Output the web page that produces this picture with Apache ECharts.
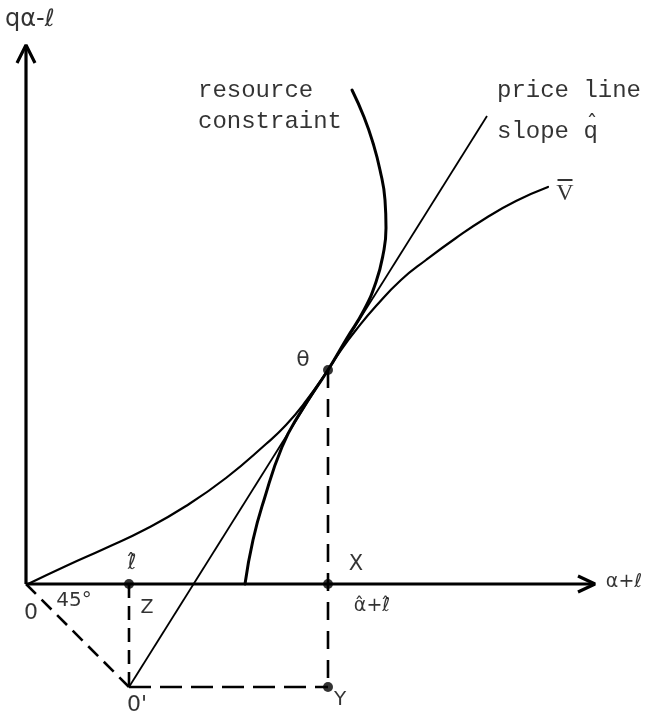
<!DOCTYPE html>
<html>
<head>
<meta charset="utf-8">
<script src="https://cdn.jsdelivr.net/npm/echarts@6/dist/echarts.min.js"></script>
<style>
  html, body { margin: 0; padding: 0; background: #fff; }
  #chart { width: 649px; height: 716px; }
</style>
</head>
<body>
<div id="chart"></div>
<script>
// Diagram units: origin 0 at the corner of the axes, one unit = ten pixels.
const lHat = 10.3;          // position of l-hat on the horizontal axis
const aPlusL = 30.2;        // position of alpha-hat + l-hat
const eHeight = 21.4;       // height of the tangency point e
const xAxisEnd = 56.9;
const yAxisEnd = 53.9;

// Indifference curve V-bar
const vBar = [
  [0.2, 0.0], [4, 1.8], [8, 3.6], [12, 5.5], [16, 7.8], [20, 10.6], [24, 14.0],
  [26, 15.9], [28, 18.3], [30.2, 21.4], [31.5, 23.4], [33, 25.4], [35, 27.8],
  [37.5, 30.4], [40, 32.4], [43, 34.6], [46, 36.6], [49, 38.3], [52.2, 39.7]
];

// Resource constraint, from the horizontal axis upward
const resource = [
  [21.9, 0.0], [22.7, 4.4], [23.8, 8.4], [25.6, 13.7], [27.4, 17.1], [30.2, 21.4],
  [32.1, 24.6], [33.8, 27.4], [35.0, 30.2], [35.7, 32.9], [36.0, 35.6],
  [35.9, 38.4], [35.4, 41.4], [34.7, 44.1], [33.8, 46.7], [32.6, 49.4]
];

// Price line through 0' and e, ending at its upper tip
const priceLineEnd = [46.1, 46.8];

const O = [0, 0];
const Oprime = [lHat, -lHat];
const Zpt = [lHat, 0];
const Xpt = [aPlusL, 0];
const Ypt = [aPlusL, -lHat];
const ePt = [aPlusL, eHeight];

// Text labels: [x, y, text, font, size, align]
const mono = 'Liberation Mono';
const sans = 'DejaVu Sans';
const labels = [
  [-2.1, 56.4, 'qα-ℓ', sans, 24, 'left'],
  [17.2, 49.3, 'resource', mono, 24, 'left'],
  [17.2, 46.2, 'constraint', mono, 24, 'left'],
  [47.1, 49.3, 'price line', mono, 24, 'left'],
  [47.1, 45.2, 'slope q', mono, 24, 'left'],
  [56.6, 46.0, 'ˆ', sans, 22, 'center'],
  [27.7, 22.4, 'θ', sans, 22, 'center'],
  [33.0, 1.9, 'X', sans, 21, 'center'],
  [34.6, -2.2, 'α\u0302+ℓ\u0302', sans, 19, 'center'],
  [10.6, 2.0, 'ℓ\u0302', sans, 21, 'center'],
  [12.1, -2.4, 'Z', sans, 19, 'center'],
  [0.5, -2.9, '0', sans, 22, 'center'],
  [4.8, -1.7, '45°', sans, 20, 'center'],
  [11.1, -12.1, "0'", sans, 22, 'center'],
  [31.4, -11.6, 'Y', sans, 20, 'center'],
  [59.8, 0.2, 'α+ℓ', sans, 19, 'center']
];
// V-bar label: an overbar drawn above the letter
const vBarLabel = [53.9, 39.3, 'V'];

const black = '#000';
function seg(points, width, dash) {
  return {
    type: 'line', data: points, symbol: 'none', silent: true,
    lineStyle: { color: black, width: width, type: dash || 'solid', cap: 'butt' },
    z: 3
  };
}
function curve(points, width) {
  return {
    type: 'line', data: points, symbol: 'none', smooth: 0.5,
    silent: true, lineStyle: { color: black, width: width, cap: 'round' }, z: 4
  };
}

const chart = echarts.init(document.getElementById('chart'));
chart.setOption({
  animation: false,
  backgroundColor: '#fff',
  grid: { left: 0, right: 0, top: 0, bottom: 0 },
  xAxis: { type: 'value', min: -2.6, max: 62.3, show: false },
  yAxis: { type: 'value', min: -13.2, max: 58.4, show: false },
  series: [
    // axes with open arrowheads
    seg([O, [0, yAxisEnd]], 3.2),
    seg([[-0.9, yAxisEnd - 1.8], [0, yAxisEnd], [0.9, yAxisEnd - 1.8]], 3.2),
    seg([O, [xAxisEnd, 0]], 3.2),
    seg([[xAxisEnd - 1.7, 0.8], [xAxisEnd, 0], [xAxisEnd - 1.7, -0.8]], 3.2),
    // dashed construction lines
    seg([O, Oprime], 2.6, [14, 8]),
    seg([Zpt, Oprime], 2.6, [14, 8]),
    seg([Oprime, Ypt], 2.6, [22, 9]),
    seg([ePt, Ypt], 2.6, [18, 11]),
    // price line
    seg([Oprime, priceLineEnd], 1.8),
    // curves
    curve(vBar, 2.2),
    curve(resource, 3),
    // marked points
    {
      type: 'scatter', data: [ePt, Xpt, Zpt, Ypt], symbol: 'circle', symbolSize: 10,
      itemStyle: { color: black }, silent: true, z: 5
    },
    // labels
    {
      type: 'scatter', symbolSize: 0, silent: true, z: 6,
      data: labels.map(l => ({
        value: [l[0], l[1]],
        label: {
          show: true, position: 'inside', formatter: l[2], color: black,
          fontFamily: l[3], fontSize: l[4], align: l[5], verticalAlign: 'middle'
        }
      })).concat([{
        value: [vBarLabel[0], vBarLabel[1]],
        label: {
          show: true, position: 'inside', color: black, align: 'center', verticalAlign: 'middle',
          formatter: '{bar|}\n{v|' + vBarLabel[2] + '}',
          rich: {
            bar: { width: 15, height: 2, backgroundColor: black, lineHeight: 5 },
            v: { fontFamily: 'Liberation Serif', fontSize: 24, lineHeight: 22, color: black }
          }
        }
      }])
    }
  ]
});
</script>
</body>
</html>
